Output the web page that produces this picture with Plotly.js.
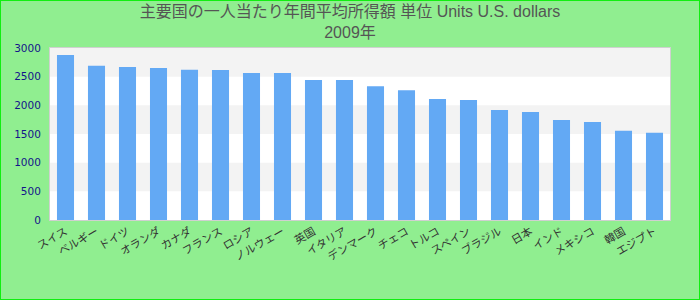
<!DOCTYPE html>
<html>
<head>
<meta charset="utf-8">
<script src="https://cdn.plot.ly/plotly-3.0.1.min.js"></script>
<style>
html,body{margin:0;padding:0;background:#90ee90;}
#chart{width:698px;height:298px;border:1px solid #11ee11;}
</style>
</head>
<body>
<div id="chart"></div>
<script>
const categories = ["スイス","ベルギー","ドイツ","オランダ","カナダ","フランス","ロシア","ノルウェー","英国","イタリア","デンマーク","チェコ","トルコ","スペイン","ブラジル","日本","インド","メキシコ","韓国","エジプト"];
const values = [2880, 2690, 2670, 2650, 2620, 2615, 2565, 2565, 2440, 2440, 2335, 2265, 2110, 2095, 1920, 1885, 1745, 1710, 1555, 1520];
const yTicks = [0, 500, 1000, 1500, 2000, 2500, 3000];
const titleText = "主要国の一人当たり年間平均所得額 単位 Units U.S. dollars<br>2009年";

const bands = [];
for (let i = yTicks.length - 1; i > 0; i -= 2) {
  bands.push({type:'rect', xref:'paper', yref:'y', x0:0, x1:1, y0:yTicks[i-1], y1:yTicks[i],
    fillcolor:'#f3f3f3', line:{width:0}, layer:'below'});
}

Plotly.newPlot('chart', [{
  type:'bar', x:categories, y:values,
  marker:{color:'#63a9f4'}
}], {
  width:698, height:298,
  margin:{l:49, r:29, t:47, b:79},
  paper_bgcolor:'#90ee90', plot_bgcolor:'#ffffff',
  bargap:0.45,
  title:{text:titleText, font:{family:'Liberation Sans, Arial, Noto Sans CJK JP', size:16, color:'#555'},
    x:0.5, xanchor:'center', yref:'container', y:0.945, yanchor:'middle'},
  xaxis:{tickangle:-30, tickfont:{family:'Noto Sans CJK JP', size:11, color:'#333'},
    showline:true, mirror:true, linecolor:'#d0d0d0', linewidth:1, ticks:'', showgrid:false},
  yaxis:{range:[0,3000], tickvals:yTicks, tickfont:{family:'DejaVu Sans', size:10.5, color:'#14148a'},
    ticklabelstandoff:6,
    showline:true, mirror:true, linecolor:'#d0d0d0', linewidth:1, showgrid:false, zeroline:false, ticks:''},
  shapes:bands,
  showlegend:false
}, {displayModeBar:false, staticPlot:true});
</script>
</body>
</html>
